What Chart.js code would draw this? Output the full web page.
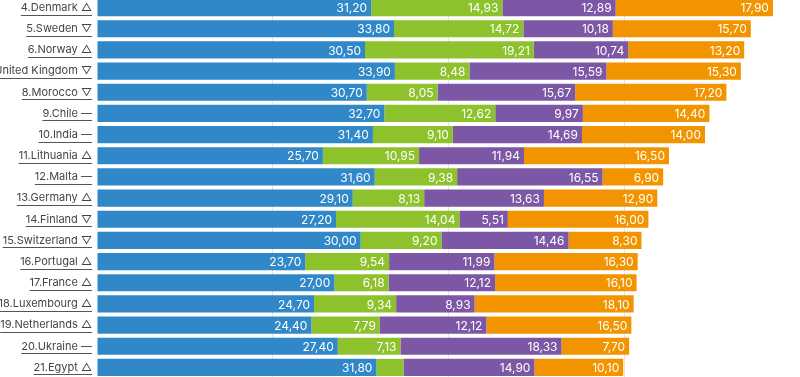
<!DOCTYPE html>
<html>
<head>
<meta charset="utf-8">
<script src="https://cdn.jsdelivr.net/npm/chart.js@4"></script>
<style>
  html, body { margin: 0; padding: 0; background: #fff; overflow: hidden; }
  #wrap { position: absolute; left: 0; top: -3px; width: 800px; height: 381px; }
</style>
</head>
<body>
<div id="wrap"><canvas id="chartRank"></canvas></div>
<script>
// categories
const countries = ['4.Denmark', '5.Sweden', '6.Norway', '7.United Kingdom', '8.Morocco', '9.Chile',
    '10.India', '11.Lithuania', '12.Malta', '13.Germany', '14.Finland', '15.Switzerland',
    '16.Portugal', '17.France', '18.Luxembourg', '19.Netherlands', '20.Ukraine', '21.Egypt'];
const trends = ['△', '▽', '△', '▽', '▽', '—', '—', '△', '—', '△', '▽', '▽', '△', '△', '△', '△', '—', '△'];

// series values
const blueData = [31.20, 33.80, 30.50, 33.90, 30.70, 32.70, 31.40, 25.70, 31.60, 29.10, 27.20, 30.00, 23.70, 27.00, 24.70, 24.40, 27.40, 31.80];
const greenData = [14.93, 14.72, 19.21, 8.48, 8.05, 12.62, 9.10, 10.95, 9.38, 8.13, 14.04, 9.20, 9.54, 6.18, 9.34, 7.79, 7.13, 3.08];
const purpleData = [12.89, 10.18, 10.74, 15.59, 15.67, 9.97, 14.69, 11.94, 16.55, 13.63, 5.51, 14.46, 11.99, 12.12, 8.93, 12.12, 18.33, 14.90];
const orangeData = [17.90, 15.70, 13.20, 15.30, 17.20, 14.40, 14.00, 16.50, 6.90, 12.90, 16.00, 8.30, 16.30, 16.10, 18.10, 16.50, 7.70, 10.10];

const labels = countries.map((c, i) => c + ' ' + trends[i]);
const labelFont = '11px Inter';

// white values inside each segment (small ones are skipped)
const valueLabels = {
    id: 'valueLabels',
    afterDatasetsDraw(chart) {
        const ctx = chart.ctx;
        ctx.save();
        ctx.font = '12px Inter';
        ctx.fillStyle = '#fff';
        ctx.textAlign = 'right';
        ctx.textBaseline = 'middle';
        chart.data.datasets.forEach((ds, i) => {
            chart.getDatasetMeta(i).data.forEach((bar, j) => {
                const v = ds.data[j];
                if (v < 5) return;
                ctx.fillText(v.toFixed(2).replace('.', ','), bar.x - 4, bar.y + 1);
            });
        });
        ctx.restore();
    }
};

// underline the category labels
const underlineTicks = {
    id: 'underlineTicks',
    afterDraw(chart) {
        const y = chart.scales.y;
        const ctx = chart.ctx;
        ctx.save();
        ctx.font = labelFont;
        ctx.strokeStyle = '#555';
        ctx.lineWidth = 1;
        y.ticks.forEach((t, i) => {
            const w = ctx.measureText(labels[i]).width;
            const yy = Math.round(y.getPixelForTick(i) + 7) + 0.5;
            const right = y.right - 5;
            ctx.beginPath();
            ctx.moveTo(right - w, yy);
            ctx.lineTo(right, yy);
            ctx.stroke();
        });
        ctx.restore();
    }
};

new Chart(document.getElementById('chartRank'), {
    type: 'bar',
    data: {
        labels: labels,
        datasets: [
            { data: blueData, backgroundColor: '#3188c9' },
            { data: greenData, backgroundColor: '#8dc22c' },
            { data: purpleData, backgroundColor: '#7c57a5' },
            { data: orangeData, backgroundColor: '#f29400' }
        ]
    },
    options: {
        indexAxis: 'y',
        responsive: true,
        maintainAspectRatio: false,
        animation: false,
        barPercentage: 0.81,
        categoryPercentage: 1,
        layout: { padding: 0, autoPadding: false },
        plugins: {
            legend: { display: false },
            tooltip: { enabled: false }
        },
        scales: {
            x: {
                stacked: true,
                min: 0,
                max: 80,
                grid: {
                    // only the inner lines (20, 40, 60)
                    color: c => (c.tick && (c.tick.value === 0 || c.tick.value === 80)) ? 'rgba(0,0,0,0)' : '#e4e4e4',
                    drawTicks: false
                },
                border: { display: false },
                ticks: { display: false, stepSize: 20 },
                afterFit: s => { s.height = 0; s.paddingLeft = 0; s.paddingRight = 0; }
            },
            y: {
                stacked: true,
                grid: { display: false, drawTicks: false },
                border: { display: false },
                ticks: {
                    autoSkip: false,
                    padding: 5,
                    color: '#444',
                    font: { family: 'Inter', size: 11 }
                },
                afterFit: s => { s.width = 97; s.paddingTop = 0; s.paddingBottom = 0; }
            }
        }
    },
    plugins: [valueLabels, underlineTicks]
});
</script>
</body>
</html>
